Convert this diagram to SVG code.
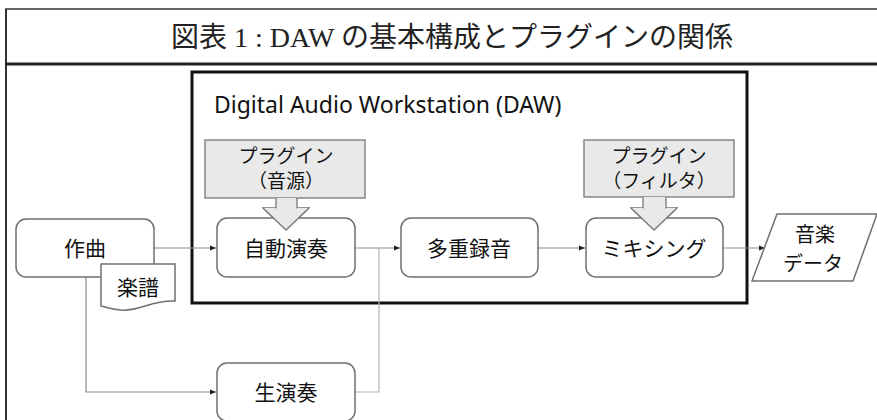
<svg xmlns="http://www.w3.org/2000/svg" width="877" height="420" viewBox="0 0 877 420">
<style>
.jp{font-family:"Noto Sans CJK JP","Noto Sans",sans-serif;fill:#111;text-anchor:middle;}
.node{fill:#fff;stroke:#707070;stroke-width:1.5;}
.plug{fill:#e9e9e9;stroke:#777;stroke-width:1.3;}
.conn{fill:none;stroke:#8c8c8c;stroke-width:1.2;}
</style>
<defs>
<marker id="ah" viewBox="0 0 10 10" refX="10" refY="5" markerWidth="6" markerHeight="6" orient="auto" markerUnits="userSpaceOnUse">
<path d="M0,1 L10,5 L0,9 z" fill="#222"/>
</marker>
</defs>
<rect width="877" height="420" fill="#fff"/>
<g id="frame">
<line x1="5" y1="9" x2="877" y2="9" stroke="#333" stroke-width="1.5"/>
<line x1="6" y1="9" x2="6" y2="420" stroke="#333" stroke-width="2"/>
<line x1="5" y1="64" x2="877" y2="64" stroke="#222" stroke-width="3"/>
<text x="452" y="47" font-family="'Liberation Serif','Noto Sans CJK JP',serif" font-size="28" fill="#222" text-anchor="middle">図表 1 : DAW の基本構成とプラグインの関係</text>
</g>
<g id="daw">
<rect x="192" y="72" width="555" height="231" fill="none" stroke="#111" stroke-width="3"/>
<text x="214" y="113" font-family="'Noto Sans','Open Sans',sans-serif" font-size="23" fill="#111">Digital Audio Workstation (DAW)</text>
</g>
<g id="connectors">
<line class="conn" x1="154" y1="248" x2="216" y2="248" marker-end="url(#ah)"/>
<line class="conn" x1="355" y1="248" x2="400" y2="248" marker-end="url(#ah)"/>
<line class="conn" x1="538" y1="248" x2="585" y2="248" marker-end="url(#ah)"/>
<line class="conn" x1="723" y1="248" x2="765" y2="248" marker-end="url(#ah)"/>
<polyline class="conn" points="86,277 86,392 216,392" marker-end="url(#ah)"/>
<polyline class="conn" points="355,392 379,392 379,248" style="stroke:#b5b5b5"/>
</g>
<g id="plugin1">
<rect class="plug" x="205" y="140" width="160" height="58"/>
<path class="plug" d="M276,198 L276,208 L263,208 L286,230 L309,208 L297,208 L297,198"/>
<text class="jp" x="286" y="163" font-size="19">プラグイン</text>
<text class="jp" x="286" y="188" font-size="19">（音源）</text>
</g>
<g id="plugin2">
<rect class="plug" x="584" y="140" width="150" height="57"/>
<path class="plug" d="M643,197 L643,208 L631,208 L654,230 L677,208 L666,208 L666,197"/>
<text class="jp" x="659" y="163" font-size="19">プラグイン</text>
<text class="jp" x="659" y="188" font-size="19">（フィルタ）</text>
</g>
<g id="sakkyoku">
<rect class="node" x="16" y="219" width="138" height="58" rx="10"/>
<text class="jp" x="85" y="256" font-size="21">作曲</text>
</g>
<g id="gakufu">
<path class="node" d="M101,264 L175,264 L175,301 C150,300 140,312 120,310 C110,309 105,307 101,306 Z"/>
<text class="jp" x="138" y="295" font-size="21">楽譜</text>
</g>
<g id="jidou">
<rect class="node" x="217" y="218" width="138" height="59" rx="10"/>
<path d="M276,214 L276,208 L263,208 L286,230 L309,208 L297,208 L297,214" fill="#e9e9e9" stroke="none"/>
<path d="M263,208 L286,230 L309,208" fill="none" stroke="#777" stroke-width="1.3"/>
<text class="jp" x="286" y="256" font-size="21">自動演奏</text>
</g>
<g id="tajuu">
<rect class="node" x="401" y="218" width="137" height="59" rx="10"/>
<text class="jp" x="469" y="256" font-size="21">多重録音</text>
</g>
<g id="mixing">
<rect class="node" x="586" y="218" width="137" height="59" rx="10"/>
<path d="M643,214 L643,208 L631,208 L654,230 L677,208 L666,208 L666,214" fill="#e9e9e9" stroke="none"/>
<path d="M631,208 L654,230 L677,208" fill="none" stroke="#777" stroke-width="1.3"/>
<text class="jp" x="654" y="256" font-size="21">ミキシング</text>
</g>
<g id="ongaku">
<path class="node" d="M777,214 L877,214 L853,281 L752,281 Z"/>
<text class="jp" x="815" y="242" font-size="20">音楽</text>
<text class="jp" x="813" y="271" font-size="20">データ</text>
</g>
<g id="nama">
<rect class="node" x="217" y="363" width="138" height="58" rx="10"/>
<text class="jp" x="286" y="400" font-size="21">生演奏</text>
</g>
</svg>
